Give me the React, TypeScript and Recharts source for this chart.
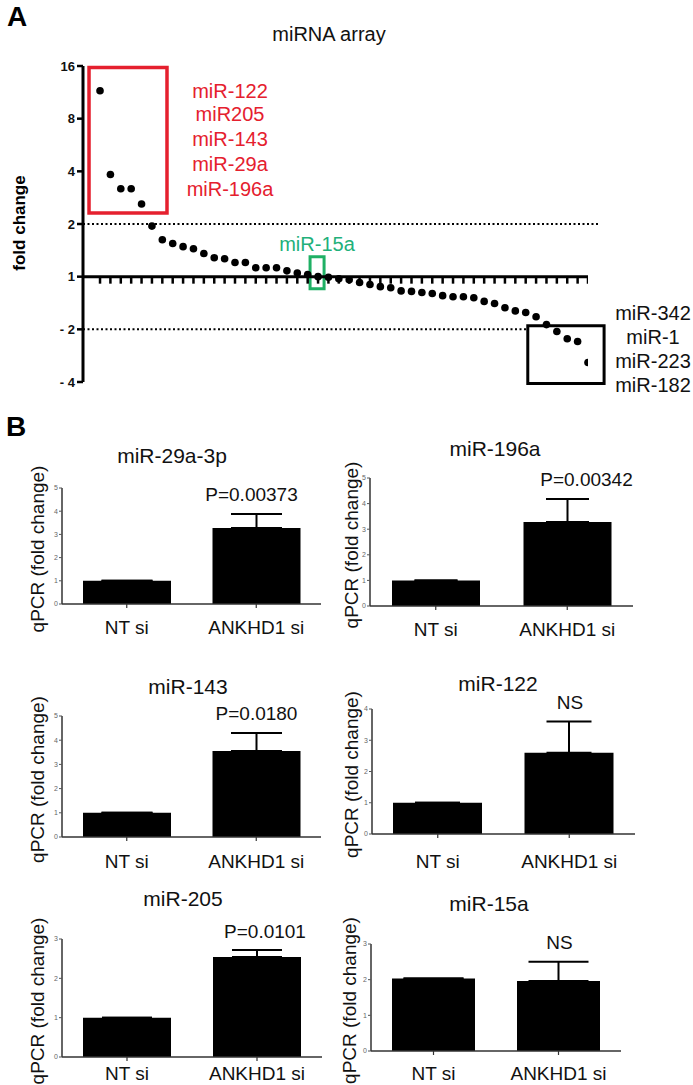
import React from "react";
import {
  ScatterChart,
  Scatter,
  BarChart,
  Bar,
  ErrorBar,
  LabelList,
  Label,
  XAxis,
  YAxis,
  ReferenceLine,
  ReferenceArea,
} from "recharts";

const FONT = '"Liberation Sans", Arial, Helvetica, sans-serif';

// ---- panel A: miRNA array (log2 fold change, ranked) ----
const arrayLog2FC = [
  3.53, 1.94, 1.67, 1.67, 1.38, 0.96, 0.7, 0.63, 0.57, 0.53, 0.44, 0.36,
  0.34, 0.27, 0.27, 0.17, 0.17, 0.17, 0.11, 0.07, 0.04, 0.0, -0.01, -0.04,
  -0.06, -0.11, -0.15, -0.19, -0.21, -0.27, -0.28, -0.3, -0.32, -0.36, -0.38,
  -0.38, -0.4, -0.47, -0.51, -0.59, -0.65, -0.68, -0.76, -0.91, -1.04, -1.18,
  -1.23, -1.63,
];
const arrayTicks = [-2, -1, 0, 1, 2, 3, 4];
const arrayTickLabels = ["- 4", "- 2", "1", "2", "4", "8", "16"];
const upMirs = ["miR-122", "miR205", "miR-143", "miR-29a", "miR-196a"];
const downMirs = ["miR-342", "miR-1", "miR-223", "miR-182"];
const controlMir = "miR-15a";

// ---- panel B: qPCR validation ----
const groups = ["NT si", "ANKHD1 si"];
const qpcrTitles = ["miR-29a-3p", "miR-196a", "miR-143", "miR-122", "miR-205", "miR-15a"];
const qpcrNT = [1, 1, 1, 1, 1, 2.03];
const qpcrANKHD1 = [3.28, 3.28, 3.55, 2.6, 2.54, 1.96];
const qpcrANKHD1Err = [0.6, 0.9, 0.75, 1.0, 0.18, 0.54];
const qpcrStats = ["P=0.00373", "P=0.00342", "P=0.0180", "NS", "P=0.0101", "NS"];
const qpcrYMax = [5, 5, 5, 4, 3, 3];

const arrayPoints = arrayLog2FC.map((v, i) => ({ rank: i + 1, fc: v }));
const rankTicks = arrayLog2FC.map((_, i) => ({ rank: i + 1, fc: 0 }));

// plot-area placement of each qPCR panel (page px)
const layout = [
  { x0: 62, x1: 321, top: 488, bot: 604, bar: 88, cap: 25.5, tm: 13, tx: 172, ty: 455, pdx: -5, ldx: -25 },
  { x0: 370, x1: 633, top: 478, bot: 606, bar: 88, cap: 21.5, tm: 13, tx: 495, ty: 448, pdx: 19, ldx: -19 },
  { x0: 62, x1: 321, top: 716, bot: 837, bar: 88, cap: 25.5, tm: 14, tx: 188, ty: 686, pdx: 0, ldx: -25 },
  { x0: 372, x1: 635, top: 709, bot: 834, bar: 89, cap: 22.5, tm: 17, tx: 498, ty: 683, pdx: 1, ldx: -21 },
  { x0: 62, x1: 322, top: 939, bot: 1057, bar: 88, cap: 25, tm: 6, tx: 183, ty: 898, pdx: 8, ldx: -25 },
  { x0: 371, x1: 621, top: 944, bot: 1051, bar: 83, cap: 30, tm: 12, tx: 489, ty: 903, pdx: 1, ldx: -22 },
];

function Txt({ x, y, size, color = "#111", bold = false, children }: any) {
  return (
    <div
      style={{
        position: "absolute",
        left: x,
        top: y,
        transform: "translate(-50%, -50%)",
        fontFamily: FONT,
        fontSize: size,
        fontWeight: bold ? 700 : 400,
        color,
        whiteSpace: "nowrap",
        lineHeight: 1,
      }}
    >
      {children}
    </div>
  );
}

function ArrayPanel() {
  return (
    <div style={{ position: "absolute", left: 0, top: 0 }}>
      <ScatterChart width={693} height={420} margin={{ top: 66, right: 105, bottom: 38, left: 53 }}>
        <XAxis type="number" dataKey="rank" domain={[-0.64, 48]} allowDataOverflow hide />
        <YAxis
          type="number"
          dataKey="fc"
          width={30}
          domain={[-2, 4]}
          ticks={arrayTicks}
          interval={0}
          tickFormatter={(v: number) => arrayTickLabels[arrayTicks.indexOf(v)]}
          axisLine={{ stroke: "#000", strokeWidth: 3 }}
          tickLine={{ stroke: "#000", strokeWidth: 2.5 }}
          tickSize={6}
          tick={{ fill: "#111", fontSize: 13, fontWeight: 700, fontFamily: FONT }}
        />
        <ReferenceLine
          segment={[{ x: -0.64, y: 1 }, { x: 49.2, y: 1 }]}
          ifOverflow="visible"
          stroke="#000"
          strokeWidth={2}
          strokeDasharray="2 2.5"
        />
        <ReferenceLine
          segment={[{ x: -0.64, y: -1 }, { x: 42.2, y: -1 }]}
          ifOverflow="visible"
          stroke="#000"
          strokeWidth={2}
          strokeDasharray="2 2.5"
        />
        <ReferenceLine y={0} stroke="#000" strokeWidth={3} />
        <ReferenceArea x1={-0.06} x2={7.45} y1={1.21} y2={3.97} ifOverflow="visible" fill="none" stroke="#e5202e" strokeWidth={3.5} />
        <ReferenceArea x1={21.23} x2={22.58} y1={-0.23} y2={0.38} ifOverflow="visible" fill="none" stroke="#1fb064" strokeWidth={3} />
        <ReferenceArea x1={42.2} x2={49.55} y1={-2.03} y2={-0.93} ifOverflow="visible" fill="none" stroke="#000" strokeWidth={3} />
        <Scatter
          data={rankTicks}
          isAnimationActive={false}
          shape={(p: any) => (
            <line x1={p.cx} x2={p.cx} y1={p.cy} y2={p.cy + 7} stroke="#000" strokeWidth={2.5} />
          )}
        />
        <Scatter
          data={arrayPoints}
          isAnimationActive={false}
          shape={(p: any) => <circle cx={p.cx} cy={p.cy} r={3.8} fill="#000" />}
        />
      </ScatterChart>
    </div>
  );
}

function QpcrPanel({ idx }: { idx: number }) {
  const L = layout[idx];
  const yMax = qpcrYMax[idx];
  const yTicks = Array.from({ length: yMax + 1 }, (_, i) => i);
  const data = groups.map((g, i) => ({
    group: g,
    mean: i === 0 ? qpcrNT[idx] : qpcrANKHD1[idx],
    err: i === 0 ? [0, 0] : [0, qpcrANKHD1Err[idx]],
  }));
  const W = 60 + (L.x1 - L.x0) + 20;
  const H = 60 + (L.bot - L.top) + 40;
  return (
    <div style={{ position: "absolute", left: L.x0 - 60, top: L.top - 60 }}>
      <BarChart width={W} height={H} data={data} margin={{ top: 60, right: 20, bottom: 0, left: 0 }} barSize={L.bar}>
        <XAxis
          dataKey="group"
          height={40}
          axisLine={{ stroke: "#333", strokeWidth: 1.5 }}
          tickLine={{ stroke: "#333", strokeWidth: 1.2 }}
          tickSize={4}
          tickMargin={L.tm}
          tick={{ fill: "#111", fontSize: 19, fontFamily: FONT }}
        />
        <YAxis
          width={60}
          domain={[0, yMax]}
          ticks={yTicks}
          interval={0}
          allowDataOverflow
          axisLine={{ stroke: "#333", strokeWidth: 1.5 }}
          tickLine={{ stroke: "#555", strokeWidth: 1 }}
          tickSize={3}
          tickMargin={1}
          tick={{ fill: "#666", fontSize: 7, fontFamily: FONT }}
        >
          <Label
            content={(p: any) => {
              const vb = p.viewBox;
              const cx = vb.x + vb.width + L.ldx;
              const cy = vb.y + vb.height / 2 + 3;
              return (
                <text
                  x={cx}
                  y={cy}
                  transform={`rotate(-90, ${cx}, ${cy})`}
                  textAnchor="middle"
                  dominantBaseline="central"
                  fontSize={19}
                  fontFamily={FONT}
                  fill="#111"
                >
                  qPCR (fold change)
                </text>
              );
            }}
          />
        </YAxis>
        <Bar dataKey="mean" fill="#000" isAnimationActive={false}>
          <ErrorBar dataKey="err" width={L.cap} stroke="#000" strokeWidth={2} direction="y" />
          <LabelList
            dataKey="mean"
            content={(p: any) => {
              if (p.index !== 1) return null;
              const unit = p.height / p.value;
              const errTop = p.y - qpcrANKHD1Err[idx] * unit;
              return (
                <text
                  x={p.x + p.width / 2 + L.pdx}
                  y={errTop - 19}
                  textAnchor="middle"
                  dominantBaseline="central"
                  fontSize={19}
                  fontFamily={FONT}
                  fill="#111"
                >
                  {qpcrStats[idx]}
                </text>
              );
            }}
          />
        </Bar>
      </BarChart>
    </div>
  );
}

export default function App() {
  const upY = [91, 114, 139, 164, 189];
  const downY = [313, 337, 361, 385];
  return (
    <div style={{ position: "absolute", left: 0, top: 0, width: 693, height: 1085, background: "#fff", overflow: "hidden" }}>
      <ArrayPanel />
      <Txt x={17} y={17} size={28} bold color="#000">A</Txt>
      <Txt x={329} y={34} size={20}>miRNA array</Txt>
      <div
        style={{
          position: "absolute",
          left: 19,
          top: 223,
          transform: "translate(-50%, -50%) rotate(-90deg)",
          fontFamily: FONT,
          fontSize: 17,
          fontWeight: 700,
          whiteSpace: "nowrap",
          lineHeight: 1,
        }}
      >
        fold change
      </div>
      {upMirs.map((m, i) => (
        <Txt key={m} x={230} y={upY[i]} size={20} color="#e5202e">{m}</Txt>
      ))}
      <Txt x={317} y={244} size={20} color="#22b07a">{controlMir}</Txt>
      {downMirs.map((m, i) => (
        <Txt key={m} x={653} y={downY[i]} size={20}>{m}</Txt>
      ))}

      <Txt x={16} y={427} size={28} bold color="#000">B</Txt>
      {qpcrTitles.map((t, i) => (
        <React.Fragment key={t}>
          <QpcrPanel idx={i} />
          <Txt x={layout[i].tx} y={layout[i].ty} size={21}>{t}</Txt>
        </React.Fragment>
      ))}
    </div>
  );
}
